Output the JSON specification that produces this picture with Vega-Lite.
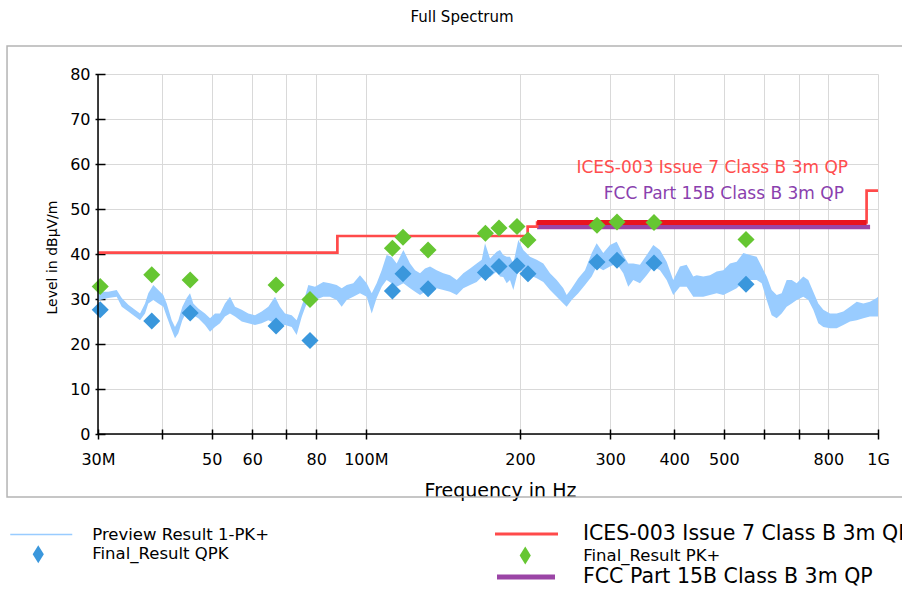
{
  "$schema": "https://vega.github.io/schema/vega-lite/v6.json",
  "width": 780,
  "height": 360,
  "autosize": {"type": "none"},
  "padding": {"left": 98, "top": 74, "right": 24, "bottom": 156},
  "background": "white",
  "config": {"view": {"stroke": null}, "font": "DejaVu Sans"},
  "title": {"text": "Full Spectrum", "font": "DejaVu Sans", "fontSize": 15, "fontWeight": "normal", "color": "#000", "anchor": "middle", "frame": "group", "dx": -26, "dy": 15.5, "offset": 23.5, "baseline": "alphabetic"},
  "datasets": {
    "trace": [
      {"f":30.0,"lo":29.6,"hi":31.4},{"f":30.27,"lo":29.8,"hi":31.6},{"f":31.42,"lo":30.2,"hi":31.6},{"f":32.63,"lo":30.5,"hi":32.0},
      {"f":33.38,"lo":28.3,"hi":30.2},{"f":34.38,"lo":27.2,"hi":28.7},{"f":35.43,"lo":26.1,"hi":27.6},{"f":36.24,"lo":25.3,"hi":26.8},
      {"f":37.06,"lo":26.8,"hi":29.0},{"f":37.61,"lo":29.0,"hi":31.3},{"f":38.47,"lo":29.8,"hi":33.1},{"f":39.34,"lo":29.0,"hi":32.0},
      {"f":40.24,"lo":28.3,"hi":30.9},{"f":40.86,"lo":26.1,"hi":29.0},{"f":41.79,"lo":23.1,"hi":25.3},{"f":42.41,"lo":21.3,"hi":23.8},
      {"f":43.05,"lo":22.4,"hi":25.3},{"f":43.83,"lo":25.3,"hi":28.3},{"f":44.70,"lo":27.2,"hi":30.2},{"f":45.37,"lo":28.3,"hi":31.3},
      {"f":46.05,"lo":26.4,"hi":29.0},{"f":47.09,"lo":25.7,"hi":27.9},{"f":48.53,"lo":24.2,"hi":26.8},{"f":49.64,"lo":22.7,"hi":25.7},
      {"f":50.76,"lo":23.8,"hi":26.8},{"f":51.92,"lo":24.6,"hi":26.8},{"f":53.09,"lo":26.1,"hi":29.0},{"f":54.30,"lo":26.8,"hi":30.5},
      {"f":55.54,"lo":26.1,"hi":28.3},{"f":57.24,"lo":25.0,"hi":27.6},{"f":58.95,"lo":24.6,"hi":26.8},{"f":60.76,"lo":24.2,"hi":26.4},
      {"f":62.62,"lo":24.6,"hi":27.2},{"f":64.51,"lo":25.3,"hi":28.3},{"f":66.48,"lo":24.6,"hi":30.5},{"f":67.98,"lo":24.2,"hi":28.3},
      {"f":69.54,"lo":24.2,"hi":26.8},{"f":71.67,"lo":23.8,"hi":26.4},{"f":73.28,"lo":22.0,"hi":25.3},{"f":74.96,"lo":26.0,"hi":28.5},
      {"f":76.07,"lo":28.0,"hi":30.5},{"f":77.22,"lo":29.8,"hi":33.1},{"f":79.58,"lo":29.8,"hi":32.7},{"f":82.60,"lo":30.5,"hi":33.8},
      {"f":85.11,"lo":30.5,"hi":33.5},{"f":87.72,"lo":29.8,"hi":33.1},{"f":89.72,"lo":28.3,"hi":32.4},{"f":91.77,"lo":29.8,"hi":33.1},
      {"f":94.52,"lo":30.5,"hi":33.5},{"f":97.41,"lo":31.3,"hi":35.3},{"f":100.4,"lo":30.5,"hi":33.5},{"f":102.7,"lo":26.8,"hi":31.3},
      {"f":105.0,"lo":30.2,"hi":33.5},{"f":107.4,"lo":32.7,"hi":36.4},{"f":109.8,"lo":34.2,"hi":39.8},{"f":112.3,"lo":33.5,"hi":39.4},
      {"f":114.9,"lo":32.7,"hi":37.9},{"f":118.4,"lo":33.5,"hi":40.9},{"f":122.0,"lo":32.4,"hi":37.9},{"f":124.8,"lo":31.6,"hi":36.4},
      {"f":127.6,"lo":30.9,"hi":35.7},{"f":130.5,"lo":31.6,"hi":36.8},{"f":133.5,"lo":32.7,"hi":37.2},{"f":137.5,"lo":32.4,"hi":36.4},
      {"f":141.7,"lo":32.0,"hi":35.7},{"f":146.0,"lo":31.6,"hi":35.3},{"f":150.5,"lo":30.9,"hi":34.2},{"f":155.0,"lo":32.4,"hi":35.7},
      {"f":159.8,"lo":33.1,"hi":36.8},{"f":164.6,"lo":33.8,"hi":37.9},{"f":168.4,"lo":34.9,"hi":38.7},{"f":170.9,"lo":35.7,"hi":42.4},
      {"f":174.8,"lo":34.9,"hi":39.0},{"f":180.1,"lo":36.1,"hi":40.5},{"f":182.8,"lo":35.0,"hi":40.9},{"f":185.5,"lo":34.9,"hi":39.8},
      {"f":188.4,"lo":33.5,"hi":39.4},{"f":191.2,"lo":34.2,"hi":39.4},{"f":194.1,"lo":32.0,"hi":37.9},{"f":198.5,"lo":36.4,"hi":43.1},
      {"f":203.0,"lo":36.1,"hi":40.9},{"f":209.2,"lo":35.3,"hi":39.4},{"f":215.6,"lo":34.6,"hi":38.7},{"f":222.1,"lo":33.8,"hi":37.9},
      {"f":228.9,"lo":32.0,"hi":35.7},{"f":235.9,"lo":30.5,"hi":34.2},{"f":243.0,"lo":29.0,"hi":32.4},{"f":246.7,"lo":28.3,"hi":30.9},
      {"f":252.3,"lo":29.8,"hi":32.4},{"f":259.9,"lo":31.3,"hi":34.6},{"f":267.9,"lo":33.1,"hi":36.4},{"f":276.1,"lo":35.0,"hi":40.2},
      {"f":282.3,"lo":37.2,"hi":42.4},{"f":290.8,"lo":36.4,"hi":40.2},{"f":299.7,"lo":37.2,"hi":42.0},{"f":308.9,"lo":37.9,"hi":42.7},
      {"f":318.2,"lo":35.7,"hi":39.8},{"f":325.4,"lo":32.7,"hi":37.9},{"f":332.8,"lo":34.2,"hi":37.9},{"f":343.0,"lo":33.5,"hi":37.6},
      {"f":353.5,"lo":35.3,"hi":39.8},{"f":364.2,"lo":37.2,"hi":42.0},{"f":375.2,"lo":36.4,"hi":40.9},{"f":386.7,"lo":34.2,"hi":38.3},
      {"f":398.3,"lo":30.9,"hi":34.2},{"f":410.5,"lo":32.7,"hi":37.2},{"f":423.1,"lo":32.7,"hi":37.6},{"f":435.8,"lo":30.5,"hi":35.0},
      {"f":442.6,"lo":30.5,"hi":35.3},{"f":455.9,"lo":30.5,"hi":35.0},{"f":469.8,"lo":30.9,"hi":35.3},{"f":484.2,"lo":31.3,"hi":36.1},
      {"f":498.8,"lo":30.9,"hi":36.4},{"f":514.0,"lo":31.6,"hi":37.9},{"f":529.8,"lo":32.4,"hi":38.3},{"f":545.8,"lo":33.8,"hi":40.2},
      {"f":562.3,"lo":34.2,"hi":39.8},{"f":579.6,"lo":34.2,"hi":39.4},{"f":592.8,"lo":33.5,"hi":37.2},{"f":606.2,"lo":29.8,"hi":35.0},
      {"f":620.0,"lo":26.4,"hi":32.0},{"f":634.2,"lo":25.7,"hi":30.9},{"f":648.5,"lo":26.8,"hi":31.3},{"f":663.3,"lo":28.3,"hi":34.2},
      {"f":678.5,"lo":29.0,"hi":34.2},{"f":693.8,"lo":29.8,"hi":33.5},{"f":714.7,"lo":30.5,"hi":35.0},{"f":731.0,"lo":29.8,"hi":34.2},
      {"f":747.6,"lo":27.6,"hi":31.6},{"f":764.6,"lo":24.6,"hi":29.0},{"f":782.1,"lo":23.8,"hi":27.6},{"f":805.9,"lo":23.5,"hi":26.8},
      {"f":830.6,"lo":23.5,"hi":26.8},{"f":855.6,"lo":24.2,"hi":27.2},{"f":881.8,"lo":25.0,"hi":28.3},{"f":908.8,"lo":25.3,"hi":29.4},
      {"f":936.2,"lo":25.7,"hi":29.0},{"f":964.5,"lo":26.1,"hi":29.4},{"f":994.1,"lo":26.1,"hi":30.2},{"f":1000,"lo":26.1,"hi":30.5}
    ],
    "finals": [
      {"f":30.3,"qpk":27.6,"pk":32.8},{"f":38.2,"qpk":25.1,"pk":35.4},{"f":45.4,"qpk":26.9,"pk":34.2},{"f":66.8,"qpk":24.0,"pk":33.1},
      {"f":77.8,"qpk":20.8,"pk":29.9},{"f":112.7,"qpk":31.8,"pk":41.3},{"f":118.2,"qpk":35.6,"pk":43.7},{"f":132.3,"qpk":32.3,"pk":40.9},
      {"f":171.2,"qpk":35.9,"pk":44.6},{"f":182.0,"qpk":37.2,"pk":45.8},{"f":197.3,"qpk":37.4,"pk":46.1},{"f":207.3,"qpk":35.6,"pk":43.1},
      {"f":282.7,"qpk":38.2,"pk":46.4},{"f":309.3,"qpk":38.6,"pk":47.1},{"f":365.3,"qpk":38.0,"pk":47.0},{"f":552.5,"qpk":33.3,"pk":43.2}
    ],
    "ices": [
      {"f":30,"level":40.3},{"f":88,"level":40.3},{"f":88,"level":44.0},{"f":207,"level":44.0},{"f":207,"level":46.1},
      {"f":216,"level":46.1},{"f":216,"level":47.0},{"f":950,"level":47.0},{"f":950,"level":54.1},{"f":1000,"level":54.1}
    ],
    "fcc": [{"f":216,"level":46.0},{"f":965,"level":46.0}],
    "one": [{"ices":"ICES-003 Issue 7 Class B 3m QP","fcc":"FCC Part 15B Class B 3m QP"}]
  },
  "resolve": {"scale": {"color": "independent"}},
  "layer": [
    {
      "data": {"name": "one"},
      "mark": {"type": "rect", "filled": false, "stroke": "#b4b4b4", "strokeWidth": 1.5, "clip": false},
      "encoding": {
        "x": {"datum": 19.93, "type": "quantitative", "scale": {"type": "log", "domain": [30, 1000], "nice": false}},
        "x2": {"datum": 1160},
        "y": {"datum": 86.2, "type": "quantitative", "scale": {"domain": [0, 80], "nice": false, "zero": false}},
        "y2": {"datum": -14.0}
      }
    },
    {
      "data": {"name": "trace"},
      "mark": {"type": "area", "opacity": 1},
      "encoding": {
        "x": {"field": "f", "type": "quantitative", "scale": {"type": "log", "domain": [30, 1000], "nice": false},
          "axis": {"title": "Frequency in Hz", "values": [30,40,50,60,70,80,100,200,300,400,500,600,700,800,1000],
            "labelExpr": "datum.value == 30 ? '30M' : datum.value == 100 ? '100M' : datum.value == 1000 ? '1G' : (datum.value == 40 || datum.value == 70 || datum.value == 600 || datum.value == 700) ? '' : format(datum.value, 'd')",
            "grid": true, "gridColor": "#d9d9d9", "gridWidth": 1, "domain": false, "ticks": true, "tickColor": "#000", "tickSize": 10, "tickWidth": 1.5,
            "offset": -5, "labelFont": "DejaVu Sans", "labelFontSize": 16, "labelColor": "#000", "labelPadding": 12, "labelOverlap": false, "labelFlush": false, "labelBound": false,
            "titleFont": "DejaVu Sans", "titleFontSize": 19, "titleFontWeight": "normal", "titleColor": "#000", "titleX": 402, "titleY": 67, "titleBaseline": "alphabetic", "titleAlign": "center", "titleAnchor": "middle"}},
        "y": {"field": "lo", "type": "quantitative", "scale": {"domain": [0, 80], "nice": false, "zero": false},
          "axis": {"title": "Level in dBµV/m", "values": [0,5,10,15,20,25,30,35,40,45,50,55,60,65,70,75,80],
            "labelExpr": "datum.value % 10 == 0 ? datum.label : ''",
            "grid": true, "gridColor": "#d9d9d9", "gridWidth": 1, "domain": false, "ticks": true, "tickColor": "#000", "tickSize": 10, "tickWidth": 1.5,
            "offset": -7, "labelFont": "DejaVu Sans", "labelFontSize": 16, "labelColor": "#000", "labelPadding": 5, "labelOverlap": false, "labelBound": false,
            "titleFont": "DejaVu Sans", "titleFontSize": 14, "titleFontWeight": "normal", "titleColor": "#000", "titleX": -53, "titleY": 183, "titleBaseline": "middle", "titleAlign": "center", "titleAnchor": "middle", "titleAngle": -90}},
        "y2": {"field": "hi"},
        "color": {"datum": "Preview Result 1-PK+", "type": "nominal", "scale": {"range": ["#99ccff"]},
          "legend": {"orient": "none", "legendX": -88.75, "legendY": 428.5, "title": null, "padding": 0, "symbolType": "stroke", "symbolSize": 3844, "symbolStrokeWidth": 1.5, "symbolStrokeColor": "#99ccff",
            "labelFont": "DejaVu Sans", "labelFontSize": 16.5, "labelColor": "#000", "labelOffset": 19, "labelLimit": 600,
            "encode": {"symbols": {"update": {"stroke": {"value": "#99ccff"}, "strokeWidth": {"value": 1.5}, "fill": {"value": "transparent"}}}}}}
      }
    },
    {
      "data": {"name": "fcc"},
      "mark": {"type": "line", "strokeWidth": 4.5, "strokeCap": "butt"},
      "encoding": {
        "x": {"field": "f", "type": "quantitative", "scale": {"type": "log", "domain": [30, 1000], "nice": false}},
        "y": {"field": "level", "type": "quantitative", "scale": {"domain": [0, 80], "nice": false, "zero": false}},
        "color": {"datum": "FCC Part 15B Class B 3m QP", "type": "nominal", "scale": {"range": ["#9b45a6"]},
          "legend": {"orient": "none", "legendX": 396.5, "legendY": 471.5, "title": null, "padding": 0, "symbolType": "stroke", "symbolSize": 3364, "symbolStrokeWidth": 5,
            "labelFont": "DejaVu Sans", "labelFontSize": 20.5, "labelColor": "#000", "labelOffset": 25.5, "labelLimit": 600}}
      }
    },
    {
      "data": {"name": "ices"},
      "mark": {"type": "line", "strokeWidth": 2.7, "strokeCap": "butt"},
      "encoding": {
        "x": {"field": "f", "type": "quantitative", "scale": {"type": "log", "domain": [30, 1000], "nice": false}},
        "y": {"field": "level", "type": "quantitative", "scale": {"domain": [0, 80], "nice": false, "zero": false}},
        "color": {"datum": "ICES-003 Issue 7 Class B 3m QP", "type": "nominal", "scale": {"range": ["#ff4a4a"]},
          "legend": {"orient": "none", "legendX": 395.5, "legendY": 427, "title": null, "padding": 0, "symbolType": "stroke", "symbolSize": 3969, "symbolStrokeWidth": 3,
            "labelFont": "DejaVu Sans", "labelFontSize": 20.5, "labelColor": "#000", "labelOffset": 23.5, "labelLimit": 600}}
      }
    },
    {
      "data": {"name": "ices"},
      "transform": [{"filter": "datum.level > 46.5 && datum.level < 48"}],
      "mark": {"type": "line", "strokeWidth": 5, "color": "#e8141e", "strokeCap": "butt"},
      "encoding": {
        "x": {"field": "f", "type": "quantitative", "scale": {"type": "log", "domain": [30, 1000], "nice": false}},
        "y": {"field": "level", "type": "quantitative", "scale": {"domain": [0, 80], "nice": false, "zero": false}}
      }
    },
    {
      "data": {"name": "finals"},
      "mark": {"type": "point", "shape": "diamond", "filled": true, "size": 290, "opacity": 1},
      "encoding": {
        "x": {"field": "f", "type": "quantitative", "scale": {"type": "log", "domain": [30, 1000], "nice": false}},
        "y": {"field": "qpk", "type": "quantitative", "scale": {"domain": [0, 80], "nice": false, "zero": false}},
        "color": {"datum": "Final_Result QPK", "type": "nominal", "scale": {"range": ["#3a97dc"]},
          "legend": {"orient": "none", "legendX": -69.75, "legendY": 470.25, "title": null, "padding": 0, "symbolType": "M0,-1L0.62,0L0,1L-0.62,0Z", "symbolSize": 324, "symbolOpacity": 1,
            "labelFont": "DejaVu Sans", "labelFontSize": 16.5, "labelColor": "#000", "labelOffset": 44, "labelLimit": 600}}
      }
    },
    {
      "data": {"name": "finals"},
      "mark": {"type": "point", "shape": "diamond", "filled": true, "size": 290, "opacity": 1},
      "encoding": {
        "x": {"field": "f", "type": "quantitative", "scale": {"type": "log", "domain": [30, 1000], "nice": false}},
        "y": {"field": "pk", "type": "quantitative", "scale": {"domain": [0, 80], "nice": false, "zero": false}},
        "color": {"datum": "Final_Result PK+", "type": "nominal", "scale": {"range": ["#66c632"]},
          "legend": {"orient": "none", "legendX": 417.25, "legendY": 471.5, "title": null, "padding": 0, "symbolType": "M0,-1L0.62,0L0,1L-0.62,0Z", "symbolSize": 324, "symbolOpacity": 1,
            "labelFont": "DejaVu Sans", "labelFontSize": 16.5, "labelColor": "#000", "labelOffset": 48, "labelLimit": 600}}
      }
    },
    {
      "data": {"name": "one"},
      "mark": {"type": "text", "align": "right", "baseline": "middle", "font": "DejaVu Sans", "fontSize": 17, "color": "#ff4d4d"},
      "encoding": {
        "x": {"datum": 874, "type": "quantitative", "scale": {"type": "log", "domain": [30, 1000], "nice": false}},
        "y": {"datum": 59.1, "type": "quantitative", "scale": {"domain": [0, 80], "nice": false, "zero": false}},
        "text": {"field": "ices"}
      }
    },
    {
      "data": {"name": "one"},
      "mark": {"type": "text", "align": "right", "baseline": "middle", "font": "DejaVu Sans", "fontSize": 17, "color": "#8a3fae"},
      "encoding": {
        "x": {"datum": 858, "type": "quantitative", "scale": {"type": "log", "domain": [30, 1000], "nice": false}},
        "y": {"datum": 53.3, "type": "quantitative", "scale": {"domain": [0, 80], "nice": false, "zero": false}},
        "text": {"field": "fcc"}
      }
    },
    {
      "data": {"name": "one"},
      "mark": {"type": "rule", "color": "#000", "strokeWidth": 1.5},
      "encoding": {
        "y": {"datum": 0, "type": "quantitative", "scale": {"domain": [0, 80], "nice": false, "zero": false}}
      }
    },
    {
      "data": {"name": "one"},
      "mark": {"type": "rule", "color": "#000", "strokeWidth": 1.5},
      "encoding": {
        "x": {"datum": 30, "type": "quantitative", "scale": {"type": "log", "domain": [30, 1000], "nice": false}}
      }
    }
  ]
}
